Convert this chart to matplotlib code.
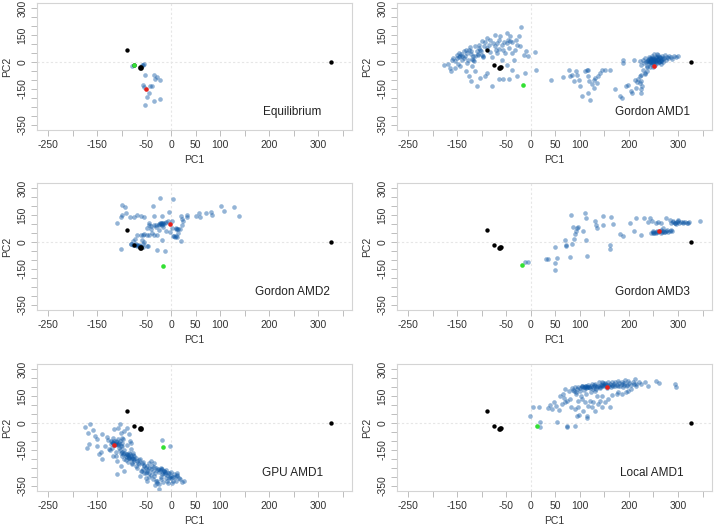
import matplotlib.pyplot as plt

plt.rcParams['font.family'] = ['Liberation Sans', 'DejaVu Sans']

# reference structures (black), same in every panel
ref_x = [-90, -76, -63, -62, -64, -61, 327]
ref_y = [65, -19, -28, -34, -31, -30, 2]

# Equilibrium
eq_x = [-79, -58, -55, -60, -53, -35, -33, -28, -22, -57, -56, -43, -38, -45, -50, -34, -22, -54]
eq_y = [-22, -15, -11, -18, -72, -72, -93, -85, -98, -126, -139, -135, -131, -172, -194, -215, -205, -239]

# Gordon AMD1
amd1_x = [-177, -164, -162, -154, -150, -151, -147, -144, -140, -137, -133, -130, -127, -123, -120, -118,
          -113, -110, -106, -105, -103, -100, -96, -93, -89, -86, -83, -78, -74, -73, -69, -66, -62, -59,
          -56, -52, -49, -45, -42, -39, -35, -32, -28, -25, -20, -15, -13, -5, 9, 11, -120, -113, -123,
          -110, -103, -93, -89, -79, -66, -56, -45, -39, -28, -154, -144, -133, -130, -127, -116, -160,
          -59, -49, -69, -100, -113, -49, -42, -140, -147, -136, -125, -108, -98,
          -170, -158, -148, -142, -135, -128, -122, -117, -108, -102, -97, -90, -84, -80, -71, -64, -55,
          -47, -38, -30, -22, -10,
          41, 66, 77, 80, 83, 87, 93, 95, 98, 100, 104, 110, 114, 116, 117, 119, 120, 124, 129, 131, 134,
          137, 141, 144, 151, 161, 117, 129,
          171, 181, 185, 188, 188, 193, 199, 205, 207, 211, 212, 215, 217, 219, 222, 224, 225, 227, 222,
          225, 232, 236, 228, 232, 225,
          222, 225, 228, 230, 232, 234, 236, 238, 240, 240, 242, 244, 245, 246, 248, 250, 250, 252, 254,
          255, 256, 258, 260, 260, 262, 264, 265, 266, 268, 270, 272, 274, 276, 278, 280, 282, 285, 288,
          292, 296, 300, 248, 243, 236, 258, 252, 246, 253, 257, 261, 244, 249, 237, 263, 268, 240, 251,
          255, 259, 247, 242, 266, 262, 254, 238, 245, 250, 256, 262, 270, 248, 258, 242, 266]
amd1_y = [-19, -33, -52, 4, 22, 41, 50, 31, 13, 22, 69, 50, 69, 46, 17, 9,
          31, 59, 78, 96, 69, 115, 87, 109, 133, 96, 124, 106, 152, 87, 106, 124, 143, 96,
          69, 50, 106, 78, 146, 50, 13, 69, 96, 143, 194, 41, -61, 31, 54, -46, -24, -52, -107,
          -131, -89, -80, -61, -131, -94, -93, -93, -43, -80, -33, -24, -52, -6, -80, 4, 13,
          13, -15, 50, 41, 87, 161, 115, 35, 28, 60, 85, 40, 30,
          -10, 20, -10, 45, 35, 10, 60, 35, 45, 60, 35, 80, 55, 30, 65, 75, 110,
          125, 110, 120, 90, 60,
          -98, -83, -46, -76, -70, -107, -48, -70, -98, -135, -187, -52, -43, -76, -46, -104, -209, -124,
          -144, -89, -117, -76, -61, -46, -46, -46, -172, -98,
          -150, -191, -200, 9, -6, -135, -126, -163, -172, 9, -98, -144, -113, -94, -117, -150, -107, -131,
          -80, -172, -65, -52, -45, -60, -70,
          5, -15, 10, -5, 20, 0, -20, 12, 28, -8, 5, 18, -12, 35, 8, -2, 22, 14, -18,
          30, 4, -6, 18, 40, 8, 26, -10, 12, 32, 2, 20, 38, 10, 28, 22, 35, 30, 18,
          35, 28, 32, -25, -30, -28, 45, 42, -4, 6, 12, -2, 10, 16, 4, 20, 22, 14, 8,
          2, 16, 24, 0, 6, 26, 10, 8, 2, 12, 20, 0, 14, -6, 28, 22, 6]

# Gordon AMD2
amd2_x = [-111, -101, -99, -94, -99, -101, -92, -83, -76, -69, -62, -56, -60, -58, -70, -73, -78, -81,
          -69, -63, -56, -50, -46, -48, -45, -41, -38, -34, -36, -34, -31, -28, -28, -24, -22, -21, -18,
          -19, -18, -16, -13, -11, -7, -4, -2, 1, 3, 4, 6, 10, 11, 13, 15, 20, 22, 23, 21, 25, 32, 33,
          50, 57, 60, 71, 81, 83, 101, 108, 128, 138,
          -82, -78, -74, -70, -66, -62, -58, -72, -66, -62, -58, -55, -50, -45, -25, -22, -19, -16, -13,
          -10, -24, 5, 8, 12, 10, 14, 18, -40, -35, -30, -45, -20, -17]
amd2_y = [106, -39, 207, 194, 152, 137, 161, 137, 139, 152, 146, 137, 13, -9, 39, 17, 4, -9,
          -15, -20, -2, -24, -24, 78, 106, 72, 50, 41, 202, 146, 96, 41, -46, 69, 244, 106, 96,
          13, 143, 83, -52, 59, 115, 165, 54, 115, 78, 239, 35, 31, 78, 72, 50, 143, 128, 96, 4, 115, 150,
          137, 143, 161, 139, 161, 167, 148, 198, 170, 194, 144,
          -12, -15, -18, -22, -25, -28, -30, -10, -15, 40, 38, 42, 38, 40, 100, 105, 108, 102, 104,
          110, 95, 35, 30, 28, 70, 74, 70, 90, 95, 85, 95, 100, 106]

# Gordon AMD3
amd3_x = [-12, -6, 30, 34, 49, 49, 54, 49, 70, 71, 71, 79, 83, 87, 90, 92, 95, 97, 81, 85, 107, 110,
          112, 113, 115, 131, 132, 134, 148, 148, 163, 161, 161, 167, 181, 188, 203, 211, 214, 224, 231,
          239, 242, 246, 256, 259, 266, 269, 275, 283, 289, 293, 300, 310, 320, 344,
          245, 248, 250, 252, 255, 258, 260, 263, 266, 268, 270, 272, 275, 278, 280, 283, 286, 288, 248,
          256, 265, 274, 286, 290, 294, 298, 302, 306, 310, 314, 318, 322, 295, 300]
amd3_y = [-113, -109, -94, -94, -117, -154, -89, -28, 9, -15, -20, -83, -9, 17, 46, 59, 78, 83, 152, 83,
          59, 161, 13, 133, -76, 115, 96, 78, 146, 96, 139, -15, -39, 100, 44, 31, 106, 63, 133, 41, 133,
          109, 133, 115, 106, 109, 106, 78, 133, 124, 115, 106, 124, 109, 106, 115,
          50, 55, 60, 52, 58, 62, 55, 60, 65, 58, 62, 55, 60, 64, 58, 62, 66, 60, 48,
          50, 52, 56, 108, 112, 106, 110, 104, 110, 108, 112, 106, 110, 100, 118]

# GPU AMD1
gpu_x = [-176, -165, -169, -167, -171, -155, -150, -147, -140, -143, -130, -126, -123, -119, -113, -109,
         -106, -103, -119, -113, -111, -103, -99, -96, -92, -89, -85, -82, -79, -75, -111, -96, -103,
         -116, -109, -105, -103, -99, -97, -100, -96, -90, -85, -84, -81, -82, -77, -72, -69, -65, -62,
         -58, -55, -63, -52, -48, -45, -41, -38, -35, -33, -28, -24, -21, -18, -21, -14, -11, -7, -4, -1,
         3, 6, 10, 13, 16, 27, -18, -2, -45, -35,
         -120, -118, -115, -112, -110, -108, -116, -106, -122, -114, -104,
         -92, -88, -85, -82, -80, -86, -78, -90, -95, -100, -76, -70,
         -30, -26, -22, -18, -15, -12, -24, -28, -20, -16, -10, -34, -6, -36, -40, -44, -8, 0, -2,
         -60, -55, -50, -48, -58, -65, 5, 12, -52, -30,
         -160, -150, -140, -135, -128, -125, -120, -118, -112, -108, -104, -100, -98, -95, -92, -90, -88,
         -86, -84, -80, -78, -75, -72, -68, -64, -60, -56, -52, -48, -44, -40, -36, -32, -28, -25, -20,
         -16, -12, -8, -4, 0, 4, 8, 12, 18, 22]
gpu_y = [-22, -7, -54, -119, -137, -72, -128, -174, -198, -161, -76, -146, -100, -109, -100, -119,
         -137, -128, -183, -183, -211, -165, -183, -202, -183, -174, -192, -202, -230, -211, -285, -267,
         -239, -31, -26, -7, -54, -81, -91, -113, -44, -26, -63, -100, -109, -146, -165, -192, -248, -230,
         -267, -257, -239, -294, -304, -322, -276, -211, -239, -294, -346, -331, -369, -313, -285, -257,
         -267, -304, -331, -276, -307, -331, -285, -320, -276, -304, -322, -96, -128, -220, -224,
         -105, -112, -118, -108, -115, -122, -98, -110, -118, -125, -100,
         -175, -180, -188, -182, -192, -196, -178, -190, -168, -160, -200, -210,
         -250, -256, -262, -258, -266, -270, -270, -264, -250, -278, -260, -242, -280, -268, -255, -248,
         -290, -292, -300,
         -225, -235, -240, -260, -215, -205, -300, -295, -280, -320,
         -40, -90, -60, -130, -95, -150, -140, -85, -160, -90, -150, -130, -170, -150, -205, -120, -215,
         -165, -175, -225, -200, -185, -240, -225, -200, -265, -280, -250, -270, -300, -290, -310, -280,
         -320, -340, -300, -330, -285, -320, -305, -270, -320, -300, -290, -310, -330]

# Local AMD1
loc_x = [-1, 5, 16, 19, 19, 35, 39, 43, 47, 51, 54, 58, 63, 66, 70, 73, 73, 74, 80, 82, 87, 89, 90, 94,
         96, 97, 99, 104, 106, 110, 114, 115, 117, 120, 124, 126, 131, 134, 136, 141, 144, 146, 151, 158,
         161, 165, 175, 178, 185, 193, 199, 205, 215, 225, 232, 239, 256, 262, 293, 295,
         70, 83, 90, 97, 104, 110, 117, 124, 131, 138, 144, 151, 158, 165, 171, 178, 185, 192, 199, 209,
         212,
         95, 100, 104, 108, 112, 115, 118, 122, 126, 130, 134, 138, 142, 146, 150, 154, 158, 162, 166,
         170, 175, 180, 185, 190, 112, 120, 140, 148, 160, 128, 105, 135, 152, 168, 178, 190, 200, 210,
         220, 188, 196, 110, 114, 145, 150, 118,
         78, 86, 92, 100, 108, 126, 133, 140, 155, 163, 172, 182, 195, 204, 214, 60, 68, 112, 122, 130,
         92, 102]
loc_y = [41, 87, 87, 7, -20, 81, 100, 78, 119, 96, 4, 72, 106, 161, 115, -15, -24, 124, 133, 87, 180,
         -19, 78, 37, 124, 87, 44, 133, 69, 115, 41, 26, 96, 124, 87, 119, 69, 152, 106, 124, 87, 152,
         115, 133, 87, 156, 161, 170, 161, 170, 180, 189, 207, 217, 226, 207, 235, 222, 217, 198,
         189, 193, 198, 198, 207, 204, 211, 217, 217, 226, 226, 222, 226, 230, 226, 235, 230, 241, 235,
         230, 244,
         190, 195, 198, 200, 196, 202, 199, 204, 200, 206, 208, 204, 210, 212, 208, 214, 210, 216, 212,
         218, 214, 220, 216, 222, 208, 194, 200, 220, 204, 212, 205, 198, 218, 206, 208, 212, 224, 218,
         226, 200, 206, 198, 202, 208, 212, 200,
         180, 185, 170, 178, 186, 190, 188, 194, 196, 200, 204, 206, 210, 212, 218, 150, 140, 160, 172,
         176, 160, 150]

# first (green) and last (red) frame of each run
start_x = [-75, -17, -16, -18, -16, 12]
start_y = [-19, -128, -131, -128, -131, -19]
end_x = [-52, 251, -2, 261, -116, 156]
end_y = [-150, -24, 102, 59, -122, 200]

titles = ["Equilibrium", "Gordon AMD1", "Gordon AMD2", "Gordon AMD3", "GPU AMD1", "Local AMD1"]
runs = [(eq_x, eq_y), (amd1_x, amd1_y), (amd2_x, amd2_y), (amd3_x, amd3_y), (gpu_x, gpu_y), (loc_x, loc_y)]

x_ticks = [-250, -200, -150, -100, -50, 0, 50, 100, 150, 200, 250, 300, 350]
x_labels = ["-250", "", "-150", "", "-50", "0", "50", "100", "", "200", "", "300", ""]
y_ticks = [-350, -300, -250, -200, -150, -100, -50, 0, 50, 100, 150, 200, 250, 300]
y_labels = ["-350", "", "", "", "-150", "", "", "0", "", "", "150", "", "", "300"]

fig = plt.figure(figsize=(7.14, 5.27), dpi=100)
lefts = [0.052, 0.556]
bottoms = [0.7533, 0.4118, 0.0683]
w, h = 0.441, 0.241

for i, (title, (px, py)) in enumerate(zip(titles, runs)):
    ax = fig.add_axes([lefts[i % 2], bottoms[i // 2], w, h])
    ax.axhline(0, color='#e6e6e6', lw=0.8, ls=(0, (2, 2)), zorder=0)
    ax.axvline(0, color='#e6e6e6', lw=0.8, ls=(0, (2, 2)), zorder=0)
    ax.scatter(px, py, s=11, color='#0b55a3', alpha=0.44, lw=0, zorder=2)
    ax.scatter(ref_x, ref_y, s=10, color='black', lw=0, zorder=3)
    ax.scatter(start_x[i], start_y[i], s=11, color='#33e033', lw=0, zorder=4)
    ax.scatter(end_x[i], end_y[i], s=11, color='#e3201c', lw=0, zorder=4)
    ax.set_xlim(-273, 369)
    ax.set_ylim(-378, 328)
    ax.set_xticks(x_ticks)
    ax.set_xticklabels(x_labels)
    ax.set_yticks(y_ticks)
    ax.set_yticklabels(y_labels, rotation=90, va='center')
    ax.tick_params(colors='#bdbdbd', labelcolor='#333333', labelsize=7.5, length=4, width=0.7, pad=3)
    for sp in ax.spines.values():
        sp.set_color('#d4d4d4')
        sp.set_linewidth(0.8)
    ax.set_xlabel("PC1", fontsize=7.5, color='#333333', labelpad=4)
    ax.set_ylabel("PC2", fontsize=7.5, color='#333333', labelpad=4)
    ax.text(0.81, 0.142, title, transform=ax.transAxes, ha='center', va='center', fontsize=8.5, color='#222222')

fig.savefig("out.png", dpi=100)
